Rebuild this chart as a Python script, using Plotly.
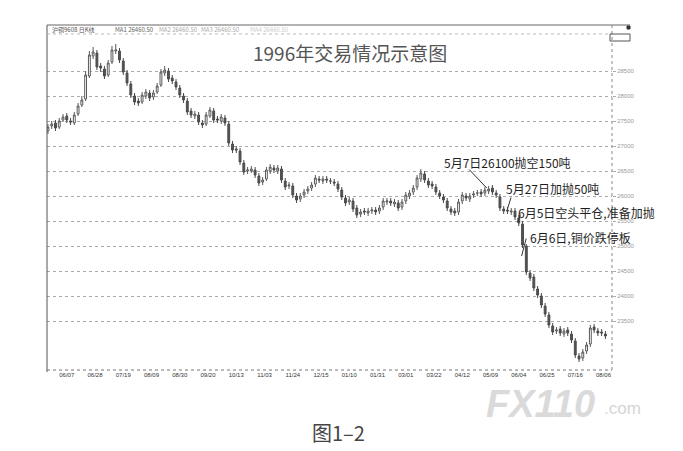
import plotly.graph_objects as go

# ---------------- data ----------------
tick_labels = ["06/07", "06/28", "07/19", "08/09", "08/30", "09/20", "10/13", "11/03", "11/24", "12/15",
               "01/10", "01/31", "03/01", "03/22", "04/12", "05/09", "06/04", "06/25", "07/16", "08/06"]
price_ticks = [23500, 24000, 24500, 25000, 25500, 26000, 26500, 27000, 27500, 28000, 28500]

opens = [27300, 27400, 27460, 27380, 27520, 27600, 27500, 27460, 27640, 27820,
         27940, 28400, 28800, 28860, 28600, 28540, 28420, 28680, 28900, 28900,
         28700, 28460, 28240, 28000, 27900, 27880, 28000, 28060, 27980, 28080,
         28220, 28460, 28500, 28360, 28280, 28160, 28000, 27900, 27700, 27600,
         27620, 27460, 27440, 27600, 27700, 27540, 27500, 27560, 27440, 27040,
         26940, 26900, 26660, 26500, 26500, 26520, 26400, 26280, 26340, 26500,
         26560, 26500, 26540, 26300, 26200, 26200, 26000, 25940, 26020, 26100,
         26160, 26240, 26340, 26300, 26340, 26300, 26280, 26240, 26120, 25960,
         25880, 25900, 25760, 25640, 25700, 25660, 25700, 25720, 25700, 25780,
         25880, 25900, 25840, 25860, 25780, 25900, 26000, 26080, 26180, 26340,
         26440, 26300, 26240, 26180, 26060, 25980, 25900, 25740, 25700, 25680,
         25900, 26000, 25940, 26020, 26060, 26080, 26060, 26100, 26160, 26060,
         25980, 25740, 25720, 25680, 25700, 25560, 25440, 25000, 24460, 24380,
         24140, 24000, 23800, 23620, 23400, 23300, 23340, 23240, 23320, 23240,
         23100, 22800, 22760, 22900, 23040, 23380, 23300, 23280, 23240]
closes = [27380, 27440, 27360, 27500, 27580, 27520, 27480, 27620, 27800, 27920,
          28420, 28820, 28880, 28580, 28560, 28400, 28660, 28920, 28920, 28720,
          28480, 28260, 28020, 27880, 27860, 28020, 28080, 27960, 28060, 28200,
          28480, 28520, 28340, 28300, 28180, 28020, 27920, 27680, 27620, 27640,
          27480, 27420, 27620, 27720, 27520, 27520, 27580, 27460, 27060, 26920,
          26920, 26680, 26480, 26520, 26540, 26420, 26260, 26320, 26520, 26580,
          26520, 26560, 26320, 26180, 26220, 26020, 25920, 26000, 26080, 26140,
          26220, 26360, 26320, 26340, 26320, 26300, 26260, 26140, 25980, 25860,
          25920, 25740, 25620, 25680, 25680, 25700, 25720, 25680, 25760, 25900,
          25900, 25860, 25880, 25760, 25880, 26020, 26060, 26160, 26360, 26460,
          26320, 26220, 26200, 26080, 26000, 25920, 25760, 25680, 25660, 25880,
          26020, 25960, 26000, 26040, 26060, 26040, 26120, 26140, 26080, 26020,
          25760, 25700, 25700, 25700, 25580, 25460, 25020, 24480, 24360, 24160,
          24020, 23820, 23640, 23420, 23280, 23320, 23260, 23300, 23260, 23120,
          22820, 22740, 22880, 23020, 23360, 23320, 23260, 23260, 23200]
highs = [27440, 27500, 27520, 27560, 27640, 27660, 27560, 27680, 27860, 28000,
         28500, 28900, 28980, 28920, 28660, 28600, 28720, 29000, 29040, 28960,
         28760, 28520, 28300, 28060, 27960, 28080, 28140, 28120, 28120, 28260,
         28540, 28600, 28560, 28420, 28340, 28220, 28060, 27960, 27760, 27700,
         27680, 27520, 27680, 27780, 27760, 27600, 27640, 27620, 27500, 27100,
         27000, 26960, 26720, 26580, 26600, 26580, 26460, 26380, 26580, 26640,
         26620, 26620, 26600, 26360, 26280, 26260, 26060, 26060, 26140, 26200,
         26280, 26420, 26400, 26400, 26400, 26360, 26340, 26300, 26180, 26020,
         25980, 25960, 25820, 25740, 25760, 25760, 25780, 25780, 25820, 25960,
         25960, 25960, 25940, 25920, 25940, 26080, 26120, 26220, 26420, 26540,
         26500, 26360, 26300, 26240, 26120, 26040, 25960, 25800, 25760, 25940,
         26080, 26060, 26060, 26100, 26120, 26140, 26180, 26200, 26220, 26120,
         26040, 25800, 25780, 25760, 25760, 25620, 25500, 25040, 24520, 24440,
         24200, 24060, 23860, 23680, 23460, 23380, 23400, 23360, 23380, 23300,
         23160, 22860, 22940, 23080, 23420, 23440, 23360, 23340, 23300]
lows = [27240, 27340, 27300, 27340, 27480, 27460, 27420, 27420, 27600, 27780,
        27900, 28360, 28740, 28520, 28480, 28340, 28380, 28640, 28840, 28660,
        28420, 28200, 27960, 27820, 27800, 27840, 27940, 27900, 27920, 28040,
        28180, 28400, 28280, 28240, 28120, 27960, 27860, 27620, 27560, 27540,
        27420, 27360, 27400, 27560, 27460, 27460, 27440, 27400, 27000, 26860,
        26860, 26620, 26420, 26440, 26460, 26360, 26200, 26220, 26300, 26440,
        26460, 26440, 26260, 26120, 26140, 25960, 25860, 25880, 25960, 26040,
        26100, 26180, 26260, 26240, 26260, 26240, 26200, 26080, 25920, 25800,
        25820, 25680, 25560, 25580, 25620, 25600, 25640, 25620, 25640, 25720,
        25820, 25800, 25780, 25700, 25720, 25840, 25940, 26020, 26120, 26280,
        26260, 26160, 26140, 26020, 25940, 25860, 25700, 25620, 25600, 25620,
        25840, 25900, 25880, 25960, 26000, 25980, 26000, 26040, 26020, 25960,
        25700, 25640, 25640, 25620, 25520, 25400, 24960, 24420, 24300, 24100,
        23960, 23760, 23580, 23360, 23220, 23240, 23200, 23180, 23200, 23060,
        22760, 22680, 22700, 22840, 22980, 23260, 23200, 23200, 23140]

trading_day = list(range(0, 2 * len(closes), 2))
assert len(opens) == len(closes) == len(highs) == len(lows) == len(trading_day)

# ---------------- layout helpers (pixel -> paper) ----------------
W, H = 683, 451
L, R, T, B = 47, 612, 34, 370


def px(x):
    return (x - L) / (R - L)


def py(y):
    return (B - y) / (B - T)


fig = go.Figure()
fig.add_trace(go.Candlestick(
    x=trading_day, open=opens, high=highs, low=lows, close=closes,
    increasing=dict(line=dict(color="#5a5a5a", width=1), fillcolor="white"),
    decreasing=dict(line=dict(color="#4a4a4a", width=1), fillcolor="#555555"),
    whiskerwidth=0, showlegend=False, hoverinfo="skip",
))

tick_days = [10 + 15 * k for k in range(len(tick_labels))]

cjk = "Noto Sans CJK SC"
annotations = []


def text_at(txt, x, y, size, color, family=cjk, xanchor="center"):
    annotations.append(dict(text=txt, xref="paper", yref="paper", x=px(x), y=py(y),
                            xanchor=xanchor, yanchor="middle", showarrow=False,
                            font=dict(family=family, size=size, color=color)))


# title
text_at("1996年交易情况示意图", 350, 52, 19, "#555")

# header strip texts
for txt, x0, col in [("沪铜9608 日K线", 50, "#555"), ("MA1 26460.50", 113, "#666"),
                     ("MA2 26460.50", 157, "#aaa"), ("MA3 26460.50", 199, "#aaa"),
                     ("MA4 26460.50", 248, "#ccc")]:
    text_at(txt, x0, 29.5, 6, col, xanchor="left")

# callouts
for txt, x0, y0 in [("5月7日26100抛空150吨", 507, 162),
                    ("5月27日加抛50吨", 552, 188),
                    ("6月5日空头平仓,准备加抛", 586, 212),
                    ("6月6日,铜价跌停板", 580, 237)]:
    text_at(txt, x0, y0, 12, "#1e1e1e")

# arrows pointing to candles: (day, price, tail dx, tail dy in px)
arrows = [(233, 26160, -19, -20), (244, 25740, 4, -13), (249.5, 25480, 3, -9), (251.5, 24800, 5, -19)]
for d, p, dx, dy in arrows:
    annotations.append(dict(text="", x=d, y=p, xref="x", yref="y", ax=dx, ay=dy,
                            showarrow=True, arrowhead=0, arrowwidth=1, arrowcolor="#333"))

# caption + watermark
text_at("图1–2", 338, 432, 20, "#444")
text_at("<b><i>FX110</i></b>", 540, 404, 38, "#dadada", family="Liberation Sans")
text_at(".com", 622, 408, 17, "#d5d5d5", family="Liberation Sans")

shapes = [
    dict(type="line", xref="paper", yref="paper", x0=px(47), x1=px(47), y0=py(25), y1=py(372),
         line=dict(color="#555", width=1)),
    dict(type="line", xref="paper", yref="paper", x0=px(47), x1=px(630), y0=py(25), y1=py(25),
         line=dict(color="#666", width=1)),
    dict(type="line", xref="paper", yref="paper", x0=px(47), x1=px(612), y0=py(34), y1=py(34),
         line=dict(color="#bbb", width=1, dash="dot")),
    dict(type="line", xref="paper", yref="paper", x0=px(612), x1=px(612), y0=py(25), y1=py(372),
         line=dict(color="#888", width=1, dash="dot")),
    dict(type="line", xref="paper", yref="paper", x0=px(47), x1=px(612), y0=py(370), y1=py(370),
         line=dict(color="#777", width=1, dash="dot")),
    dict(type="rect", xref="paper", yref="paper", x0=px(610), x1=px(630), y0=py(34), y1=py(41),
         line=dict(color="#555", width=1)),
    dict(type="rect", xref="paper", yref="paper", x0=px(627), x1=px(630), y0=py(26), y1=py(29),
         line=dict(color="#333", width=1), fillcolor="#333"),
]

fig.update_layout(
    width=W, height=H,
    margin=dict(l=L, r=W - R, t=T, b=H - B, pad=0, autoexpand=False),
    paper_bgcolor="white", plot_bgcolor="white",
    annotations=annotations, shapes=shapes,
    xaxis=dict(range=[-0.5, 299.5], rangeslider=dict(visible=False), showgrid=False, zeroline=False,
               tickmode="array", tickvals=tick_days, ticktext=tick_labels, ticks="",
               tickfont=dict(family="Liberation Sans", size=6, color="#333"), showline=False),
    yaxis=dict(range=[22520, 29240], side="right", tickmode="array", tickvals=price_ticks,
               ticktext=[str(v) for v in price_ticks],
               showgrid=True, gridcolor="#aaa", griddash="dot", gridwidth=1, zeroline=False,
               ticks="outside", ticklen=3, tickcolor="#aaa",
               tickfont=dict(family="Liberation Sans", size=6, color="#999"), showline=False),
    font=dict(family=cjk),
)

fig.write_html("out.html", config={"displayModeBar": False},
               post_script="document.body.style.margin='0';")
